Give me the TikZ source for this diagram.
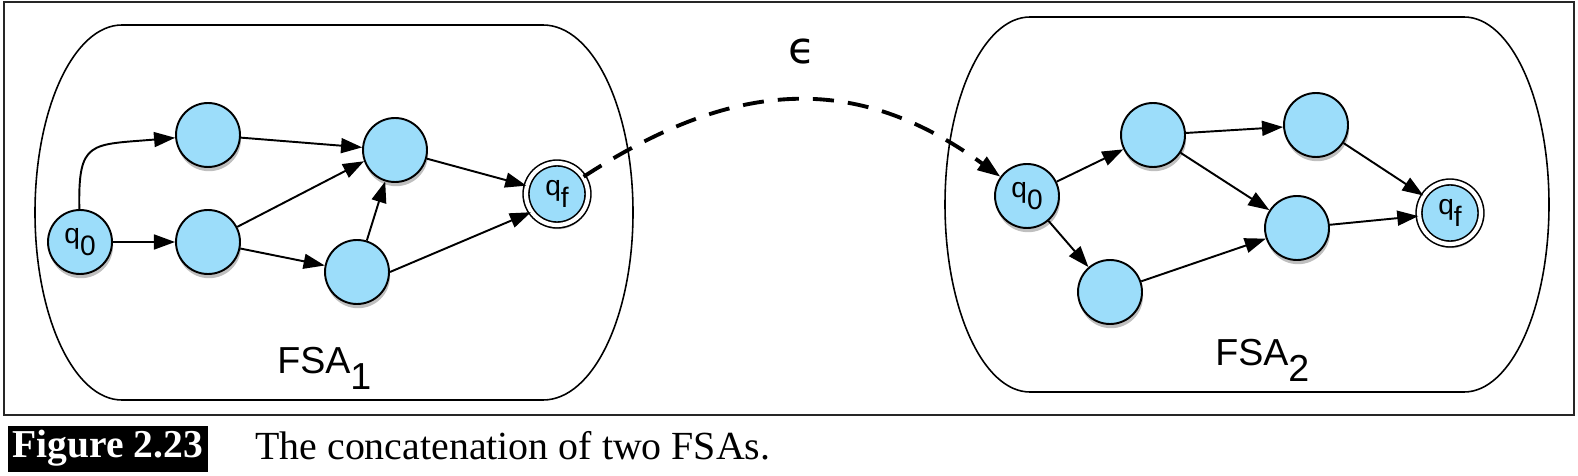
\documentclass[tikz,border=0pt]{standalone}
\usepackage{fontspec}
\setmainfont{Liberation Serif}
\newfontfamily\helv{Liberation Sans}
\newfontfamily\dejavu{DejaVu Sans}
\usepackage{tikz}
\usetikzlibrary{arrows.meta}
\usetikzlibrary{shadows}
\definecolor{statefill}{RGB}{156,221,250}
\newcommand{\lowsub}[1]{\raisebox{-0.45em}{#1}}

\begin{document}
\begin{tikzpicture}[x=0.02cm, y=-0.02cm,
		fsastate/.style={circle, draw, line width=1.1pt, fill=statefill,
			minimum size=1.28cm, inner sep=0pt, font=\helv\fontsize{16}{16}\selectfont,
			drop shadow={shadow xshift=0.6pt, shadow yshift=-2.4pt, opacity=0.5}},
		fsafinal/.style={fsastate, minimum size=1.24cm, double, double distance=2.4pt, line width=0.9pt},
		edge/.style={-{Triangle[length=12pt,width=8.5pt]}, line width=1.1pt},
		epsedge/.style={-{Triangle[length=13pt,width=9pt]}, line width=2.2pt, dash pattern=on 12pt off 8pt},
		fsabox/.style={line width=0.9pt},
		fsalabel/.style={anchor=base west, inner sep=0pt, font=\helv\fontsize{21.4}{22}\selectfont}]
		\useasboundingbox (0,0) rectangle (1578,476);
		% Frame
		\draw[line width=1.3pt, black!85] (4,2) rectangle (1574,415);
		% FSA 1
		\draw[fsabox] (122,25) -- (543,25)
			.. controls +(50,0) and +(0,-104) .. (633,212.5)
			.. controls +(0,104) and +(50,0) .. (543,400) -- (122,400)
			.. controls +(-48,0) and +(0,104) .. (35,212.5)
			.. controls +(0,-104) and +(-48,0) .. cycle;
		\node[fsastate] (qa0) at (80,242) {q\lowsub{0}};
		\node[fsastate] (qa1) at (208,135) {};
		\node[fsastate] (qa2) at (208,242) {};
		\node[fsastate] (qa3) at (395,150) {};
		\node[fsastate] (qa4) at (357,272) {};
		\node[fsafinal] (qfa) at (557,194) {q\lowsub{f}};
		\node[fsalabel] (lbla) at (277,373) {FSA\lowsub{1}};
		\draw[edge] (qa0) .. controls (78,140) and (90,145) .. (qa1);
		\draw[edge] (qa0) -- (qa2);
		\draw[edge] (qa1) -- (qa3);
		\draw[edge] (qa2) -- (qa3.200);
		\draw[edge] (qa2) -- (qa4);
		\draw[edge] (qa4) -- (qa3);
		\draw[edge] (qa3) -- (qfa);
		\draw[edge] (qa4.east) -- (qfa.215);
		% FSA 2
		\draw[fsabox] (1030,17) -- (1464,17)
			.. controls +(47,0) and +(0,-104) .. (1549,204.5)
			.. controls +(0,104) and +(47,0) .. (1464,392) -- (1030,392)
			.. controls +(-47,0) and +(0,104) .. (945,204.5)
			.. controls +(0,-104) and +(-47,0) .. cycle;
		\node[fsastate] (qb0) at (1027,196) {q\lowsub{0}};
		\node[fsastate] (qb1) at (1153,135) {};
		\node[fsastate] (qb2) at (1316,125) {};
		\node[fsastate] (qb3) at (1297,228) {};
		\node[fsastate] (qb4) at (1110,292) {};
		\node[fsafinal] (qfb) at (1450,213) {q\lowsub{f}};
		\node[fsalabel] (lblb) at (1215,365) {FSA\lowsub{2}};
		\draw[edge] (qb0) -- (qb1);
		\draw[edge] (qb0) -- (qb4);
		\draw[edge] (qb1) -- (qb2);
		\draw[edge] (qb1) -- (qb3);
		\draw[edge] (qb4) -- (qb3);
		\draw[edge] (qb2) -- (qfb);
		\draw[edge] (qb3) -- (qfb);
		% epsilon link
		\draw[epsedge] (qfa) .. controls (740,75) and (860,75) .. (qb0);
		\node[font=\dejavu\fontsize{25}{25}\selectfont] (eps) at (802,52) {ϵ};
		% Caption
		\fill (8,426) rectangle (208,472);
		\node[anchor=base, inner sep=0pt, text=white, font=\bfseries\fontsize{22.5}{24}\selectfont]
			(fignum) at (108,457) {Figure 2.23};
		\node[anchor=base west, inner sep=0pt, font=\fontsize{22.7}{24}\selectfont]
			(cap) at (255,459) {The concatenation of two FSAs.};
\end{tikzpicture}
\end{document}
